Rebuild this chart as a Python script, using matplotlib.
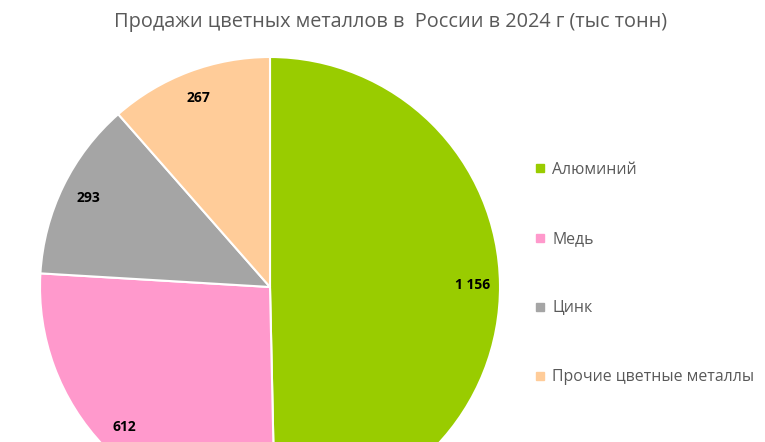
import numpy as np
import matplotlib.pyplot as plt
from matplotlib.lines import Line2D

plt.rcParams['font.family'] = ['Open Sans', 'DejaVu Sans']

metals = ["Алюминий", "Медь", "Цинк", "Прочие цветные металлы"]
sales = [1156, 612, 293, 267]
value_labels = ["1 156", "612", "293", "267"]
colors = ["#99CC00", "#FF99CC", "#A5A5A5", "#FFCC99"]

W, H = 765, 442
fig = plt.figure(figsize=(W / 100, H / 100), dpi=100)

# pie centre at (270, 287) px from top-left, radius 230 px - bottom is cut off
cx, cy, r = 270, 287, 230
ax = fig.add_axes([(cx - r) / W, (H - cy - r) / H, 2 * r / W, 2 * r / H])
wedges, _ = ax.pie(sales, colors=colors, startangle=90, counterclock=False,
                   wedgeprops=dict(edgecolor="white", linewidth=1.5))
ax.set_xlim(-1, 1)
ax.set_ylim(-1, 1)
ax.set_aspect("equal")

total = sum(sales)
start = 90.0
for val, lab in zip(sales, value_labels):
    span = val / total * 360
    mid = np.deg2rad(start - span / 2)
    ax.text(0.88 * np.cos(mid), 0.88 * np.sin(mid), lab, ha="center", va="center",
            fontsize=10, fontweight="bold", color="black")
    start -= span

fig.text(391 / W, 1 - 22 / H, "Продажи цветных металлов в  России в 2024 г (тыс тонн)",
         ha="center", va="center", fontsize=14.3, color="#595959")

handles = [Line2D([], [], marker="s", linestyle="none", markersize=6,
                  markerfacecolor=c, markeredgecolor=c) for c in colors]
leg = fig.legend(handles, metals, loc="upper left", bbox_to_anchor=(535 / W, 1 - 162 / H),
                 frameon=False, fontsize=11.4, labelspacing=3.35, handlelength=0.6,
                 handletextpad=0.5, borderpad=0, borderaxespad=0)
for t in leg.get_texts():
    t.set_color("#595959")

fig.savefig("out.png", dpi=100)
